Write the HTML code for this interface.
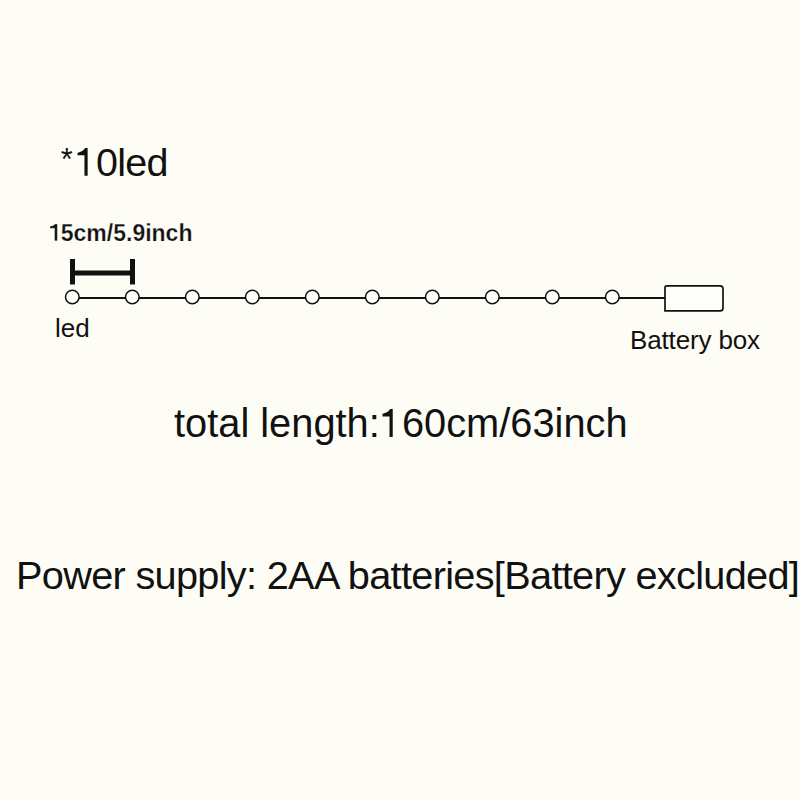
<!DOCTYPE html>
<html><head><meta charset="utf-8">
<style>
html,body{margin:0;padding:0;}
body{width:800px;height:800px;background:#fdfdf6;position:relative;overflow:hidden;font-family:"Liberation Sans",sans-serif;color:#111;}
.t{position:absolute;white-space:nowrap;line-height:1;}
svg.main{position:absolute;left:0;top:0;}
.one{display:inline-block;width:0.5562em;height:0.7031em;vertical-align:baseline;}
.one svg{display:block;width:100%;height:100%;}
</style></head><body>
<svg class="main" width="800" height="800" viewBox="0 0 800 800">
  <g fill="#111">
    <rect x="70" y="259" width="5" height="25.5"/>
    <rect x="130" y="259" width="5" height="25.5"/>
    <rect x="75" y="270.5" width="55" height="5"/>
  </g>
  <line x1="72.3" y1="298" x2="665" y2="298" stroke="#111" stroke-width="2"/>
  <g fill="#fefefb" stroke="#111" stroke-width="1.5">
    <circle cx="72.3" cy="297" r="6.8"/>
    <circle cx="132.3" cy="297" r="6.8"/>
    <circle cx="192.3" cy="297" r="6.8"/>
    <circle cx="252.3" cy="297" r="6.8"/>
    <circle cx="312.3" cy="297" r="6.8"/>
    <circle cx="372.3" cy="297" r="6.8"/>
    <circle cx="432.3" cy="297" r="6.8"/>
    <circle cx="492.3" cy="297" r="6.8"/>
    <circle cx="552.3" cy="297" r="6.8"/>
    <circle cx="612.3" cy="297" r="6.8"/>
  </g>
  <path d="M665 310.9 V287.6 Q665 285.9 666.7 285.9 H720 Q723 285.9 723 288.9 V307.9 Q723 310.9 720 310.9 Z" fill="#fefefb" stroke="#111" stroke-width="1.7"/>
</svg>
<div class="t" style="left:60px;top:143px;font-size:39.5px;letter-spacing:-0.7px;"><span style="display:inline-block;transform-origin:7.6px 12.4px;transform:translate(-1px,-1px) scale(0.78);">*</span><span class="one" style="margin-right:-0.7px"><svg viewBox="0 0 1139 1440" preserveAspectRatio="none"><path d="M490 1440H655V0H520C480 110 300 220 130 240V380H490Z" fill="#111"/></svg></span>0led</div>
<div class="t" style="left:48px;top:222px;font-size:23px;font-weight:bold;-webkit-text-stroke:0.25px #fdfdf6;"><span class="one" style="height:0.728em"><svg viewBox="0 -51 1139 1491" preserveAspectRatio="none"><path d="M590 1440H830V-51H620C580 60 380 140 175 150V320H590Z" fill="#111" stroke="#fdfdf6" stroke-width="22"/></svg></span>5cm/5.9inch</div>
<div class="t" style="left:55px;top:315px;font-size:26px;">led</div>
<div class="t" style="left:630px;top:326.8px;font-size:26px;letter-spacing:-0.15px;">Battery box</div>
<div class="t" style="left:174px;top:403.6px;font-size:39.8px;">total length:<span class="one" style="margin-right:0"><svg viewBox="0 0 1139 1440" preserveAspectRatio="none"><path d="M490 1440H655V0H520C480 110 300 220 130 240V380H490Z" fill="#111"/></svg></span>60cm/63inch</div>
<div class="t" style="left:16px;top:555.5px;font-size:39.7px;letter-spacing:-0.685px;">Power supply: 2AA batteries[Battery excluded]</div>
</body></html>
